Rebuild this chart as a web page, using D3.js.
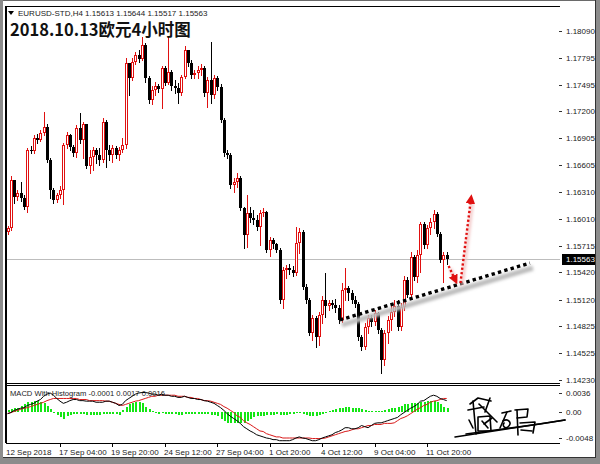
<!DOCTYPE html>
<html><head><meta charset="utf-8">
<script src="https://cdn.jsdelivr.net/npm/d3@7"></script>
<style>html,body{margin:0;padding:0;background:#fff}svg{display:block}</style>
</head><body>
<script>
// ---------------- DATA ----------------
const symbol = "EURUSD-STD,H4";
const title = "2018.10.13欧元4小时图";
const firstOpen = 1.15867;
const closes = [1.15911,1.16442,1.16254,1.16298,1.16243,1.16144,1.16774,1.16763,1.16907,1.16885,
1.16962,1.17028,1.16663,1.16332,1.16221,1.16276,1.16332,1.16829,1.16940,1.16807,
1.16741,1.17017,1.16885,1.17062,1.16597,1.16697,1.16774,1.16719,1.16663,1.17084,
1.16774,1.16719,1.16796,1.16719,1.16774,1.16829,1.17736,1.17570,1.17747,1.17825,
1.17781,1.17935,1.17570,1.17327,1.17438,1.17482,1.17449,1.17681,1.17515,1.17637,
1.17482,1.17460,1.17404,1.17581,1.17880,1.17736,1.17604,1.17626,1.17659,1.17681,
1.17404,1.17548,1.17382,1.17570,1.17471,1.17106,1.16741,1.16719,1.16387,1.16420,
1.16464,1.16133,1.15834,1.16077,1.16022,1.16000,1.15922,1.16077,1.16088,1.15668,
1.15779,1.15734,1.15668,1.15115,1.15447,1.15469,1.15447,1.15414,1.15745,1.15867,
1.15259,1.15115,1.14750,1.14916,1.14706,1.14949,1.15115,1.15049,1.15082,1.15060,
1.15027,1.14894,1.15226,1.15248,1.15192,1.15115,1.15071,1.14706,1.14595,1.14816,
1.14916,1.14872,1.14971,1.14783,1.14452,1.14750,1.14894,1.14982,1.15049,1.14816,
1.15038,1.15336,1.15170,1.15591,1.15369,1.15613,1.15956,1.15723,1.15911,1.15978,
1.16066,1.15845,1.15557,1.15613,1.15563];
const highs = [1.15933,1.16486,1.16387,1.16332,1.16420,1.16276,1.16796,1.16818,1.16940,1.16951,
1.16995,1.17194,1.17062,1.16686,1.16354,1.16298,1.16376,1.16851,1.16973,1.16951,
1.16829,1.17051,1.17183,1.17084,1.17039,1.16774,1.16807,1.16796,1.16796,1.17128,
1.17106,1.16829,1.16829,1.16818,1.16807,1.16907,1.17792,1.17736,1.17792,1.17858,
1.17880,1.18024,1.17957,1.17592,1.17482,1.17526,1.17504,1.17703,1.17703,1.18024,
1.17659,1.17548,1.17515,1.17604,1.17924,1.17825,1.17769,1.17659,1.17703,1.17725,
1.17703,1.17581,1.17969,1.17604,1.17592,1.17504,1.17128,1.16774,1.16741,1.16464,
1.16520,1.16486,1.16144,1.16276,1.16144,1.16110,1.16055,1.16110,1.16133,1.16099,
1.15812,1.15801,1.15745,1.15690,1.15480,1.15502,1.15513,1.15491,1.15922,1.15911,
1.15889,1.15292,1.15137,1.14949,1.14938,1.14982,1.15159,1.15414,1.15115,1.15115,
1.15126,1.15060,1.15303,1.15469,1.15270,1.15226,1.15159,1.15093,1.14728,1.14861,
1.14949,1.14949,1.15004,1.14982,1.14805,1.14783,1.14938,1.15049,1.15115,1.15115,
1.15082,1.15380,1.15369,1.15646,1.15613,1.15668,1.15978,1.15978,1.15945,1.16022,
1.16110,1.16088,1.15867,1.15646,1.15644];
const lows = [1.15845,1.15889,1.16188,1.16221,1.16210,1.16122,1.16088,1.16741,1.16741,1.16851,
1.16874,1.16940,1.16641,1.16243,1.16188,1.16199,1.16243,1.16177,1.16796,1.16774,
1.16708,1.16697,1.16851,1.16686,1.16575,1.16520,1.16553,1.16630,1.16608,1.16641,
1.16586,1.16663,1.16641,1.16686,1.16663,1.16752,1.16796,1.17382,1.17548,1.17725,
1.17747,1.17769,1.17526,1.17294,1.17283,1.17382,1.17416,1.17239,1.17493,1.17504,
1.17438,1.17404,1.17294,1.17382,1.17570,1.17703,1.17570,1.17570,1.17570,1.17604,
1.17371,1.17250,1.17294,1.17349,1.17438,1.17084,1.16708,1.16686,1.16354,1.16310,
1.16365,1.16110,1.15690,1.15701,1.15978,1.15956,1.15889,1.15723,1.16044,1.15646,
1.15602,1.15690,1.15646,1.15082,1.15027,1.15358,1.15403,1.15380,1.15392,1.15635,
1.15237,1.15082,1.14728,1.14673,1.14595,1.14617,1.14861,1.14927,1.15004,1.15027,
1.14982,1.14861,1.14872,1.15115,1.15115,1.15082,1.15038,1.14673,1.14562,1.14573,
1.14750,1.14827,1.14839,1.14750,1.14308,1.14396,1.14639,1.14783,1.14938,1.14783,
1.14783,1.15004,1.15148,1.15159,1.15336,1.15314,1.15425,1.15690,1.15690,1.15845,
1.15911,1.15823,1.15535,1.15314,1.15517];

// MACD panel values in units of 0.0001
const macdUnit = 0.0001;
const macdLine = [-3,-1,3,5,7,8,12,14,16,20, 23,29,33,35,31,25,20,16,18,21, 23,23,21,21,20,20,20,18,18,18,
20,20,18,16,12,14,21,25,29,33, 35,36,36,35,33,33,31,33,31,31, 29,29,27,27,29,27,25,25,23,23,
21,20,18,16,12,8,3,-3,-8,-12, -16,-21,-27,-31,-35,-38,-42,-44,-46,-48, -49,-51,-51,-53,-53,-53,-53,-51,-48,-46,
-48,-49,-51,-53,-53,-51,-48,-46,-44,-42, -38,-36,-33,-29,-29,-31,-31,-29,-25,-27, -29,-25,-21,-20,-20,-18,-16,-14,-12,-10,
-5,-1,3,7,10,14,20,21,25,29, 31,29,25,23,21];
const signalLine = [-3,-1,1,3,5,7,8,10,12,14, 16,18,21,23,25,25,25,25,25,25, 25,25,23,23,23,21,21,21,21,21,
20,20,18,16,14,12,14,16,18,20, 21,23,25,27,29,29,31,31,31,31, 31,31,29,29,29,27,27,25,25,23,
21,21,20,18,16,14,10,7,3,-1, -7,-10,-16,-20,-23,-27,-31,-35,-36,-40, -42,-44,-46,-46,-48,-48,-48,-48,-48,-48,
-48,-48,-48,-49,-49,-49,-49,-48,-46,-44, -42,-40,-38,-36,-35,-33,-31,-31,-29,-27, -25,-25,-23,-23,-23,-21,-21,-21,-20,-16,
-12,-10,-7,-3,1,5,8,12,14,18, 20,21,23,25,25];
const histogram = [3,5,7,8,12,14,18,18,20,20, 18,16,12,5,-1,-5,-10,-12,-8,-5, -3,-3,-3,-3,-5,-5,-5,-5,-5,-3,
-3,-3,-3,-3,-5,3,10,14,16,18, 18,16,10,5,1,-1,-3,-1,-3,-3, -3,-3,-5,-5,-3,-3,-3,-3,-3,-3,
-3,-3,-5,-5,-8,-12,-16,-20,-21,-21, -21,-21,-20,-16,-12,-10,-8,-7,-7,-5, -5,-5,-3,-5,-5,-5,-3,-3,-1,-1,
-3,-5,-7,-7,-7,-5,-3,-1,1,3, 5,7,8,10,10,8,8,7,5,3, 1,1,1,1,1,3,5,7,8,10,
12,14,14,16,16,16,18,18,20,20, 20,18,14,10,7];
const macdTitle = "MACD With Histogram -0.0001 0.0017 0.0016";

// axis ticks
const priceTicks = [1.18090,1.17795,1.17495,1.17200,1.16905,1.16605,1.16310,1.16010,1.15715,1.15420,1.15120,1.14825,1.14525,1.14230];
const macdTicks = [36, 0, -48];
const macdTickLabels = ["0.0036", "0.00", "-0.0048"];
const timeTickIndex = [0,16,32,48,64,80,96,112,128];
const timeTickLabels = ["12 Sep 2018","17 Sep 04:00","19 Sep 20:00","24 Sep 12:00","27 Sep 04:00","1 Oct 20:00","4 Oct 12:00","9 Oct 04:00","11 Oct 20:00"];

// annotations in (bar index, price)
const trendLine = [[101.4, 1.14894], [159.4, 1.15524]];
const arrowDown = [[134.6, 1.15491], [136.6, 1.15336]];
const arrowUp = [[138.2, 1.15303], [141.4, 1.16232]];

// ---------------- CHART ----------------
const W = 600, H = 464;
const RED = "#e01010", GREEN = "#14e614";
const svg = d3.select("body").append("svg").attr("width", W).attr("height", H)
  .style("font-family", "'Liberation Sans', Arial, sans-serif");
svg.append("rect").attr("width", W).attr("height", H).attr("fill", "#fff");

const plotL = 6, plotR = 560, mainT = 6, mainB = 383.5, subT = 385.5, subB = 443;
const x = d3.scaleLinear().domain([0, 168]).range([7.6, 558.1]);
const y = d3.scaleLinear().domain([1.14230, 1.18433]).range([380, 0]);
const ym = d3.scaleLinear().domain([-48, 36]).range([438, 392.5]);

const bars = closes.map((c, i) => {
  const o = i === 0 ? firstOpen : closes[i - 1];
  return { i, o, c, h: Math.max(highs[i], o, c), l: Math.min(lows[i], o, c) };
});

// defs
const defs = svg.append("defs");
defs.append("clipPath").attr("id", "mainClip").append("rect")
  .attr("x", plotL + 1).attr("y", mainT + 1).attr("width", plotR - plotL - 1).attr("height", mainB - mainT - 1);
defs.append("clipPath").attr("id", "subClip").append("rect")
  .attr("x", plotL + 1).attr("y", subT + 1).attr("width", plotR - plotL - 1).attr("height", subB - subT - 1);
defs.append("filter").attr("id", "blur").attr("x", "-20%").attr("y", "-200%").attr("width", "140%").attr("height", "500%")
  .append("feGaussianBlur").attr("stdDeviation", 1.6);
defs.append("marker").attr("id", "headRed").attr("viewBox", "0 0 10 10").attr("refX", 5).attr("refY", 5)
  .attr("markerWidth", 4).attr("markerHeight", 4).attr("orient", "auto").attr("markerUnits", "strokeWidth")
  .append("path").attr("d", "M0,0 L10,5 L0,10 Z").attr("fill", RED);

// current price line
const last = bars[bars.length - 1];
svg.append("line").attr("x1", plotL + 1).attr("x2", plotR).attr("y1", Math.round(y(last.c)) + 0.5).attr("y2", Math.round(y(last.c)) + 0.5)
  .attr("stroke", "#bdbdbd").attr("stroke-width", 1);

// candles
const gC = svg.append("g").attr("clip-path", "url(#mainClip)").attr("shape-rendering", "crispEdges");
bars.forEach(b => {
  const cx = Math.round(x(b.i));
  const up = b.c >= b.o;
  const col = up ? RED : "#000";
  gC.append("line").attr("x1", cx + 0.5).attr("x2", cx + 0.5)
    .attr("y1", Math.round(y(b.h))).attr("y2", Math.round(y(b.l)) + 1)
    .attr("stroke", col).attr("stroke-width", 1);
  const yt = Math.round(y(Math.max(b.o, b.c))), yb = Math.round(y(Math.min(b.o, b.c)));
  if (up) {
    if (yb - yt >= 2) {
      gC.append("rect").attr("x", cx - 0.5).attr("y", yt + 0.5).attr("width", 2).attr("height", yb - yt - 1)
        .attr("fill", "#fff").attr("stroke", RED).attr("stroke-width", 1);
    } else {
      gC.append("rect").attr("x", cx - 1).attr("y", yt).attr("width", 3).attr("height", 1).attr("fill", RED);
    }
  } else {
    gC.append("rect").attr("x", cx - 1).attr("y", yt).attr("width", 3).attr("height", Math.max(yb - yt, 1)).attr("fill", "#000");
  }
});

// trend line annotation with shadow
const gA = svg.append("g").attr("clip-path", "url(#mainClip)");
gA.append("line")
  .attr("x1", x(trendLine[0][0]) + 2).attr("y1", y(trendLine[0][1]) + 5)
  .attr("x2", x(trendLine[1][0]) + 3).attr("y2", y(trendLine[1][1]) + 5)
  .attr("stroke", "#bcbcbc").attr("stroke-width", 5).attr("filter", "url(#blur)");
gA.append("line")
  .attr("x1", x(trendLine[0][0])).attr("y1", y(trendLine[0][1]))
  .attr("x2", x(trendLine[1][0])).attr("y2", y(trendLine[1][1]))
  .attr("stroke", "#000").attr("stroke-width", 3.4).attr("stroke-dasharray", "3.4,3.2");

// red dotted arrows
[arrowDown, arrowUp].forEach(a => {
  gA.append("line")
    .attr("x1", x(a[0][0]) + 1.5).attr("y1", y(a[0][1]) + 2.5)
    .attr("x2", x(a[1][0]) + 1.5).attr("y2", y(a[1][1]) + 2.5)
    .attr("stroke", "#f2c4c4").attr("stroke-width", 3).attr("filter", "url(#blur)");
  gA.append("line")
    .attr("x1", x(a[0][0])).attr("y1", y(a[0][1]))
    .attr("x2", x(a[1][0])).attr("y2", y(a[1][1]))
    .attr("stroke", RED).attr("stroke-width", 2.4).attr("stroke-dasharray", "2.2,2.2")
    .attr("marker-end", "url(#headRed)");
});

// MACD panel
const gM = svg.append("g").attr("clip-path", "url(#subClip)");
gM.append("g").attr("shape-rendering", "crispEdges").selectAll("rect").data(histogram).join("rect")
  .attr("x", (d, i) => Math.round(x(i)) - 0.5).attr("width", 2)
  .attr("y", d => Math.min(ym(d), ym(0))).attr("height", d => Math.max(Math.abs(ym(d) - ym(0)), 1))
  .attr("fill", GREEN);
const lineGen = d3.line().x((d, i) => x(i)).y(d => ym(d));
gM.append("path").attr("d", lineGen(signalLine)).attr("fill", "none").attr("stroke", "#d81818").attr("stroke-width", 1);
gM.append("path").attr("d", lineGen(macdLine)).attr("fill", "none").attr("stroke", "#000").attr("stroke-width", 1);
svg.append("text").attr("x", 10).attr("y", 396).attr("font-size", 7.6).attr("fill", "#222").text(macdTitle);

// frames
const fr = svg.append("g").attr("stroke", "#000").attr("stroke-width", 1).attr("shape-rendering", "crispEdges");
fr.append("line").attr("x1", plotL).attr("x2", plotR).attr("y1", mainT).attr("y2", mainT);
fr.append("line").attr("x1", plotL).attr("x2", plotR).attr("y1", mainB).attr("y2", mainB);
fr.append("line").attr("x1", plotL).attr("x2", plotR).attr("y1", subT).attr("y2", subT);
fr.append("line").attr("x1", plotL).attr("x2", plotR).attr("y1", subB).attr("y2", subB);
fr.append("line").attr("x1", plotL).attr("x2", plotL).attr("y1", mainT).attr("y2", subB).attr("stroke-width", 1.5);

// price axis
const pa = svg.append("g");
priceTicks.forEach(p => {
  const yy = Math.round(y(p));
  pa.append("line").attr("x1", plotR - 1).attr("x2", plotR + 2).attr("y1", yy + 0.5).attr("y2", yy + 0.5)
    .attr("stroke", "#333").attr("shape-rendering", "crispEdges");
  pa.append("text").attr("x", 566).attr("y", yy + 3).attr("font-size", 8).attr("fill", "#222")
    .text(d3.format(".5f")(p));
});
// current price tag
const cy = Math.round(y(last.c));
pa.append("rect").attr("x", 562).attr("y", cy - 5).attr("width", 33).attr("height", 11).attr("fill", "#000");
pa.append("text").attr("x", 566).attr("y", cy + 3).attr("font-size", 8).attr("fill", "#fff").text(d3.format(".5f")(last.c));

// MACD axis
macdTicks.forEach((v, k) => {
  const yy = Math.round(ym(v));
  pa.append("line").attr("x1", plotR - 1).attr("x2", plotR + 2).attr("y1", yy + 0.5).attr("y2", yy + 0.5)
    .attr("stroke", "#333").attr("shape-rendering", "crispEdges");
  pa.append("text").attr("x", 566).attr("y", yy + 3).attr("font-size", 8).attr("fill", "#222").text(macdTickLabels[k]);
});

// time axis
timeTickIndex.forEach((ti, k) => {
  const xx = Math.round(x(ti));
  if (k > 0) svg.append("line").attr("x1", xx + 0.5).attr("x2", xx + 0.5).attr("y1", subB).attr("y2", subB + 4)
    .attr("stroke", "#000").attr("shape-rendering", "crispEdges");
  svg.append("text").attr("x", k === 0 ? 6 : xx - 1).attr("y", 455).attr("font-size", 8).attr("fill", "#222").text(timeTickLabels[k]);
});

// header
svg.append("path").attr("d", "M8,11 L14,11 L11,15 Z").attr("fill", "#000");
const f5 = d3.format(".5f");
svg.append("text").attr("x", 18).attr("y", 16).attr("font-size", 8).attr("fill", "#222")
  .text(`${symbol}  ${f5(last.o)} ${f5(highs[highs.length-1])} ${f5(lows[lows.length-1])} ${f5(last.c)}`);
svg.append("text").attr("x", 10).attr("y", 36).attr("font-size", 16.5).attr("font-weight", "bold")
  .attr("font-family", "'Noto Sans CJK SC', 'DejaVu Sans', sans-serif").attr("fill", "#111").text(title);

// signature (decorative strokes)
const sig = svg.append("g").attr("fill", "none").attr("stroke", "#000").attr("stroke-width", 1.6)
  .attr("stroke-linecap", "round").attr("stroke-linejoin", "round");
[
  "M455,437 L565,420", "M466,434 L540,424 L565,420",
  "M470,404 L478,398 L491,401", "M473,401 L476,434", "M468,410 L484,407",
  "M479,404 L497,422", "M478,417 L490,416 L491,431 L478,431 Z", "M490,398 L485,412", "M482,421 L488,428",
  "M484,424 L492,418", "M469,420 L473,428",
  "M502,413 L511,411", "M507,412 L500,428", "M503,421 C508,418 513,423 508,427 C505,429 502,426 504,423",
  "M515,410 L528,409 L527,417 L517,418", "M517,410 L518,435", "M520,423 L535,422 L533,433", "M521,430 L532,431"
].forEach(d => sig.append("path").attr("d", d));

// outer window frame
svg.append("rect").attr("x", 0.5).attr("y", 0.5).attr("width", W - 1).attr("height", H - 1)
  .attr("fill", "none").attr("stroke", "#6a6a6a").attr("stroke-width", 1);
svg.append("rect").attr("x", 596).attr("y", 0).attr("width", 4).attr("height", H).attr("fill", "#8c8c8c");
svg.append("rect").attr("x", 0).attr("y", 458).attr("width", W).attr("height", 6).attr("fill", "#8c8c8c");
svg.append("rect").attr("x", 0).attr("y", 0).attr("width", 3).attr("height", H).attr("fill", "#8c8c8c");
svg.append("line").attr("x1", 595.5).attr("x2", 595.5).attr("y1", 0).attr("y2", 458).attr("stroke", "#333");
svg.append("line").attr("x1", 3).attr("x2", 596).attr("y1", 457.5).attr("y2", 457.5).attr("stroke", "#333");
</script>
</body></html>
